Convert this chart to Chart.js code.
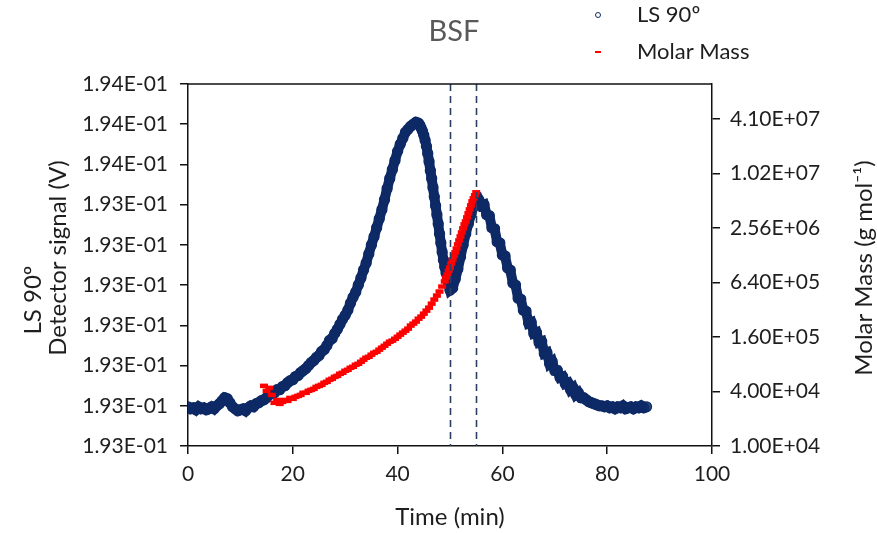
<!DOCTYPE html>
<html>
<head>
<meta charset="utf-8">
<script src="https://cdn.jsdelivr.net/npm/chart.js@4.4.0/dist/chart.umd.min.js"></script>
<style>
body { margin: 0; background: #fff; }
canvas { display: block; }
</style>
</head>
<body>
<canvas id="chart" width="877" height="533"></canvas>
<script>
// LS 90 detector signal (V) vs time (min)
const lsTime = [
    0, 0.5, 1, 1.5, 2, 2.5, 3, 3.5, 4, 4.5, 5, 5.5, 6, 6.5, 7, 7.5, 8, 8.5, 9, 9.5,
    10, 10.5, 11, 11.5, 12, 12.5, 13, 13.5, 14, 14.5, 15, 15.5, 16, 16.5, 17, 17.5, 18, 18.5, 19, 19.5,
    20, 20.5, 21, 21.5, 22, 22.5, 23, 23.5, 24, 24.5, 25, 25.5, 26, 26.5, 27, 27.5, 28, 28.5, 29, 29.5,
    30, 30.5, 31, 31.5, 32, 32.5, 33, 33.5, 34, 34.5, 35, 35.5, 36, 36.5, 37, 37.5, 38, 38.5, 39, 39.5,
    40, 40.5, 41, 41.5, 42, 42.5, 43, 43.5, 44, 44.25, 44.5, 44.75, 45, 45.25, 45.5, 45.75,
    46, 46.25, 46.5, 46.75, 47, 47.25, 47.5, 47.75, 48, 48.25, 48.5, 48.75, 49, 49.25, 49.5, 49.75,
    50, 50.5, 51, 51.5, 52, 52.5, 53, 53.5, 54, 54.5, 55, 55.5, 56, 56.5, 57, 57.5, 58, 58.5, 59, 59.5,
    60, 60.5, 61, 61.5, 62, 62.5, 63, 63.5, 64, 64.5, 65, 65.5, 66, 66.5, 67, 67.5, 68, 68.5, 69, 69.5,
    70, 70.5, 71, 71.5, 72, 72.5, 73, 73.5, 74, 74.5, 75, 75.5, 76, 76.5, 77, 77.5, 78, 78.5, 79, 79.5,
    80, 80.5, 81, 81.5, 82, 82.5, 83, 83.5, 84, 84.5, 85, 85.5, 86, 86.5, 87, 87.5
];
const lsSignal = [
    0.1930975, 0.1930925, 0.193095, 0.19309, 0.1930975, 0.1930925, 0.193095, 0.19309, 0.1930925, 0.1930975,
    0.1930925, 0.1931, 0.193105, 0.1931125, 0.19312, 0.1931175, 0.1931075, 0.1930975, 0.1930925, 0.1930875,
    0.19309, 0.1930925, 0.1930875, 0.193095, 0.1931, 0.1930975, 0.193105, 0.1931075, 0.1931125, 0.193115,
    0.19312, 0.1931275, 0.19313, 0.1931325, 0.19314, 0.19314, 0.1931475, 0.19315, 0.1931575, 0.1931625,
    0.193165, 0.1931725, 0.193175, 0.1931825, 0.1931875, 0.1931925, 0.1932, 0.1932075, 0.1932125, 0.19322,
    0.193225, 0.193235, 0.19324, 0.19325, 0.1932625, 0.1932675, 0.19328, 0.19329, 0.1933025, 0.193315,
    0.193325, 0.1933375, 0.193355, 0.19337, 0.1933825, 0.1934, 0.1934175, 0.1934375, 0.193455, 0.1934775,
    0.1935, 0.19352, 0.1935425, 0.193565, 0.1935875, 0.1936125, 0.19364, 0.193665, 0.1936875, 0.19371,
    0.1937325, 0.19375, 0.193765, 0.19378, 0.1937875, 0.193795, 0.1938, 0.193805, 0.1938025, 0.1937975,
    0.19379, 0.1937825, 0.1937725, 0.19376, 0.193745, 0.1937275,
    0.1937075, 0.193685, 0.193665, 0.1936425, 0.19362, 0.1935975, 0.193575, 0.1935525, 0.1935275, 0.193505,
    0.1934825, 0.1934625, 0.193445, 0.19343, 0.193415, 0.1934,
    0.1933875, 0.1933925, 0.193415, 0.19344, 0.19347, 0.1935, 0.1935275, 0.1935525, 0.193575, 0.193595,
    0.1936075, 0.1936125, 0.1935975, 0.1936, 0.193575, 0.1935725, 0.1935425, 0.19354, 0.1935075, 0.193505,
    0.193475, 0.1934725, 0.1934425, 0.1934375, 0.193405, 0.1934, 0.1933675, 0.193365, 0.1933375, 0.193335,
    0.193305, 0.1933075, 0.19328, 0.1932825, 0.1932575, 0.19326, 0.19323, 0.1932325, 0.193205, 0.19321,
    0.1931875, 0.1931875, 0.19317, 0.1931725, 0.193155, 0.1931575, 0.19314, 0.193145, 0.1931275, 0.1931325,
    0.19312, 0.19312, 0.193115, 0.19311, 0.1931075, 0.193105, 0.1931025, 0.1931, 0.1931, 0.1930975,
    0.1931, 0.193095, 0.1930975, 0.1930925, 0.1930975, 0.193095, 0.1931, 0.1930925, 0.193095, 0.1930975,
    0.1930925, 0.1930975, 0.193095, 0.1931, 0.193095, 0.1930975
];

// Molar mass (g/mol) vs time (min)
const mmTime = [
    14.5, 15, 15.5, 16, 16.5, 17, 17.5, 18, 18.5, 19, 19.5, 20, 20.5, 21, 21.5, 22, 22.5, 23, 23.5, 24,
    24.5, 25, 25.5, 26, 26.5, 27, 27.5, 28, 28.5, 29, 29.5, 30, 30.5, 31, 31.5, 32, 32.5, 33, 33.5, 34,
    34.5, 35, 35.5, 36, 36.5, 37, 37.5, 38, 38.5, 39, 39.5, 40, 40.5, 41, 41.5, 42, 42.5, 43, 43.5, 44,
    44.5, 45, 45.5, 46, 46.5, 47, 47.5, 48, 48.5, 49, 49.25, 49.5, 49.75, 50, 50.25, 50.5, 50.75, 51,
    51.25, 51.5, 51.75, 52, 52.25, 52.5, 52.75, 53, 53.25, 53.5, 53.75, 54, 54.25, 54.5, 54.75, 55
];
const mmValue = [
    4.62e4, 4.07e4, 4.39e4, 3.67e4, 3.00e4, 3.23e4, 2.92e4, 3.07e4, 3.23e4, 3.15e4, 3.40e4, 3.32e4, 3.49e4, 3.58e4, 3.67e4, 3.87e4, 3.87e4, 4.07e4, 4.17e4, 4.28e4,
    4.50e4, 4.62e4, 4.74e4, 4.99e4, 5.12e4, 5.39e4, 5.53e4, 5.81e4, 5.96e4, 6.28e4, 6.44e4, 6.78e4, 6.95e4, 7.31e4, 7.50e4, 7.90e4, 8.10e4, 8.52e4, 8.97e4, 9.44e4,
    9.68e4, 1.02e5, 1.07e5, 1.10e5, 1.16e5, 1.22e5, 1.28e5, 1.35e5, 1.42e5, 1.46e5, 1.53e5, 1.61e5, 1.70e5, 1.79e5, 1.88e5, 1.98e5, 2.14e5, 2.25e5, 2.37e5, 2.55e5,
    2.69e5, 2.90e5, 3.13e5, 3.38e5, 3.74e5, 4.15e5, 4.59e5, 5.09e5, 5.78e5, 6.57e5, 7.27e5, 7.85e5, 8.69e5, 9.38e5, 1.04e6, 1.15e6, 1.27e6, 1.38e6,
    1.52e6, 1.69e6, 1.87e6, 2.07e6, 2.29e6, 2.54e6, 2.81e6, 3.03e6, 3.36e6, 3.72e6, 4.12e6, 4.56e6, 5.05e6, 5.46e6, 5.89e6, 6.36e6
];

// axis ticks
const signalTicks = [0.1930, 0.1931, 0.1932, 0.1933, 0.1934, 0.1935, 0.1936, 0.1937, 0.1938, 0.1939];
const signalTickLabels = ['1.93E-01', '1.93E-01', '1.93E-01', '1.93E-01', '1.93E-01', '1.93E-01', '1.93E-01', '1.94E-01', '1.94E-01', '1.94E-01'];
const molarTicks = [1e4, 4e4, 1.6e5, 6.4e5, 2.56e6, 1.024e7, 4.096e7];
const markerTimes = [50, 55];

const navy = '#0E2A66';
const red = '#FF0000';
const textColor = '#1E1E1E';
const fontName = 'Lato';

function sci(v) {
    const e = Math.floor(Math.log10(v) + 1e-9);
    const m = v / Math.pow(10, e);
    return m.toFixed(2) + 'E+' + String(e).padStart(2, '0');
}

// dashed markers, frame top, titles and legend
const decorations = {
    id: 'decorations',
    afterDatasetsDraw(chart) {
        const ctx = chart.ctx;
        const a = chart.chartArea;
        const xs = chart.scales.x;
        ctx.save();
        ctx.strokeStyle = '#2B3F66';
        ctx.lineWidth = 1.6;
        ctx.setLineDash([7, 5]);
        markerTimes.forEach(t => {
            const x = Math.round(xs.getPixelForValue(t)) + 0.5;
            ctx.beginPath();
            ctx.moveTo(x, a.top);
            ctx.lineTo(x, a.bottom);
            ctx.stroke();
        });
        ctx.restore();
    },
    afterDraw(chart) {
        const ctx = chart.ctx;
        const a = chart.chartArea;
        ctx.save();
        // top frame line
        ctx.strokeStyle = '#111';
        ctx.lineWidth = 1.5;
        ctx.beginPath();
        ctx.moveTo(a.left, a.top);
        ctx.lineTo(a.right, a.top);
        ctx.stroke();

        // title
        ctx.fillStyle = '#595959';
        ctx.font = '29px ' + fontName;
        ctx.textAlign = 'center';
        ctx.textBaseline = 'middle';
        ctx.fillText('BSF', 454, 32);

        // legend
        ctx.strokeStyle = navy;
        ctx.lineWidth = 1;
        ctx.beginPath();
        ctx.arc(598, 15, 2.5, 0, Math.PI * 2);
        ctx.stroke();
        ctx.strokeStyle = red;
        ctx.lineWidth = 2;
        ctx.beginPath();
        ctx.moveTo(595, 52);
        ctx.lineTo(601, 52);
        ctx.stroke();
        ctx.fillStyle = textColor;
        ctx.font = '22px ' + fontName;
        ctx.textAlign = 'left';
        ctx.fillText('LS 90º', 637, 15);
        ctx.fillText('Molar Mass', 637, 52);

        // axis titles
        ctx.font = '24px ' + fontName;
        ctx.textAlign = 'center';
        ctx.fillText('Time (min)', 450, 517);
        ctx.save();
        ctx.translate(33, 300);
        ctx.rotate(-Math.PI / 2);
        ctx.fillText('LS 90º', 0, 0);
        ctx.restore();
        ctx.save();
        ctx.translate(58, 258);
        ctx.rotate(-Math.PI / 2);
        ctx.fillText('Detector signal (V)', 0, 0);
        ctx.restore();
        ctx.save();
        ctx.translate(864, 268);
        ctx.rotate(-Math.PI / 2);
        ctx.fillText('Molar Mass (g mol⁻¹)', 0, 0);
        ctx.restore();
        ctx.restore();
    }
};

const tickFont = { family: fontName, size: 21 };
const axisGrid = { drawOnChartArea: false, drawTicks: true, tickLength: 8, color: '#111', lineWidth: 1.5 };
const axisBorder = { display: true, color: '#111', width: 1.5 };

const chart = new Chart(document.getElementById('chart'), {
    type: 'scatter',
    data: {
        datasets: [
            {
                label: 'Molar Mass',
                data: mmTime.map((t, i) => ({ x: t, y: mmValue[i] })),
                yAxisID: 'y2',
                pointStyle: 'line',
                pointRadius: 4,
                borderWidth: 4.5,
                borderColor: red,
                backgroundColor: red,
                order: 0
            },
            {
                label: 'LS 90º',
                data: lsTime.map((t, i) => ({ x: t, y: lsSignal[i] })),
                yAxisID: 'y',
                showLine: true,
                borderColor: navy,
                borderWidth: 10,
                tension: 0,
                pointStyle: 'circle',
                pointRadius: 5,
                pointBorderWidth: 1.3,
                pointBorderColor: navy,
                pointBackgroundColor: 'rgba(14, 42, 102, 0.85)',
                order: 1
            }
        ]
    },
    options: {
        responsive: false,
        animation: false,
        layout: { padding: { top: 84, left: 0, right: 0, bottom: 0 } },
        plugins: {
            legend: { display: false },
            title: { display: false },
            tooltip: { enabled: false }
        },
        scales: {
            x: {
                type: 'linear',
                min: 0,
                max: 100,
                ticks: { stepSize: 20, font: tickFont, color: textColor, padding: 8 },
                grid: axisGrid,
                border: axisBorder,
                afterFit: s => { s.height = 87; }
            },
            y: {
                type: 'linear',
                position: 'left',
                min: 0.1930,
                max: 0.1939,
                afterBuildTicks: s => { s.ticks = signalTicks.map(v => ({ value: v })); },
                ticks: {
                    font: tickFont,
                    color: textColor,
                    padding: 12,
                    callback: (v, i) => signalTickLabels[i]
                },
                grid: axisGrid,
                border: axisBorder,
                afterFit: s => { s.width = 188; }
            },
            y2: {
                type: 'logarithmic',
                position: 'right',
                min: 1e4,
                max: 1e8,
                afterBuildTicks: s => { s.ticks = molarTicks.map(v => ({ value: v })); },
                ticks: {
                    font: tickFont,
                    color: textColor,
                    padding: 10,
                    callback: v => sci(v)
                },
                grid: axisGrid,
                border: axisBorder,
                afterFit: s => { s.width = 165; }
            }
        }
    },
    plugins: [decorations]
});
</script>
</body>
</html>
